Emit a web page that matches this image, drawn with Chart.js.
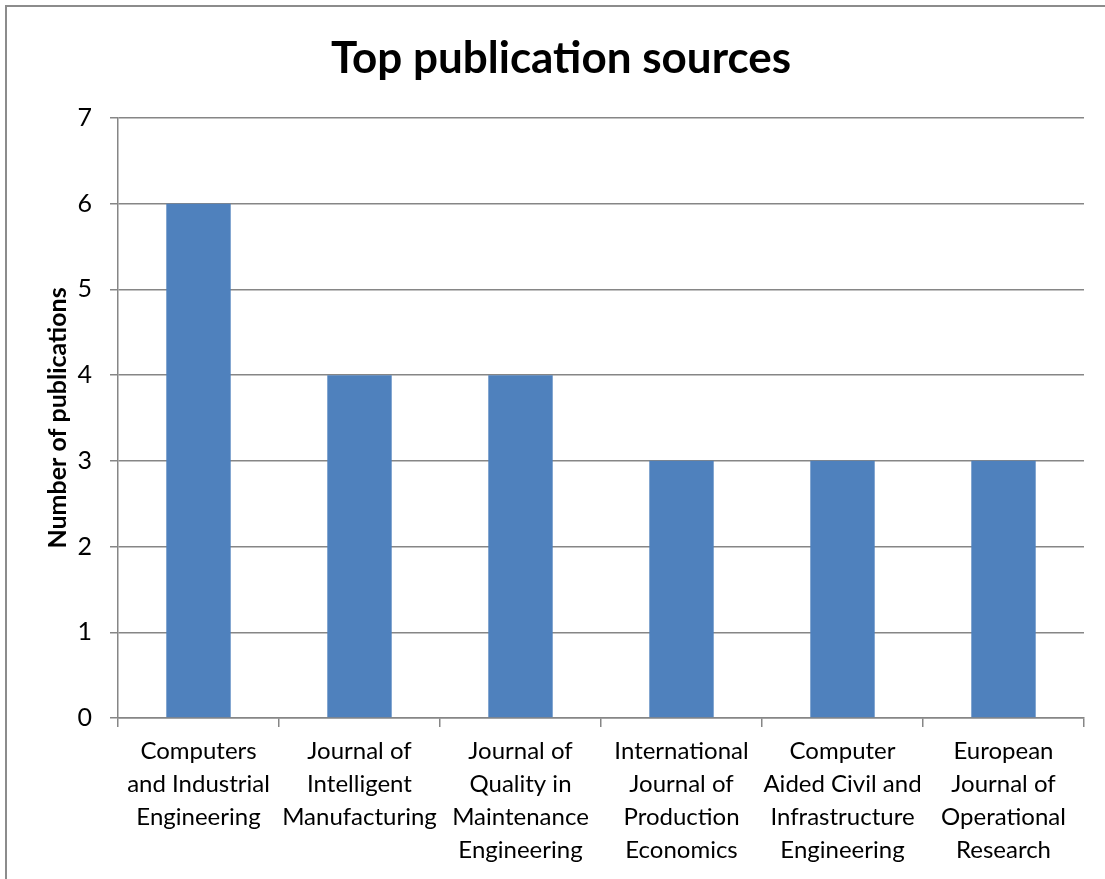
<!DOCTYPE html>
<html>
<head>
<meta charset="utf-8">
<script src="https://cdn.jsdelivr.net/npm/chart.js@4/dist/chart.umd.min.js"></script>
<style>
  html, body { margin: 0; padding: 0; background: #fff; }
  canvas { display: block; }
</style>
</head>
<body>
<canvas id="myChart" width="1105" height="879"></canvas>
<script>
// chart data
const categories = [
  ["Computers", "and Industrial", "Engineering"],
  ["Journal of", "Intelligent", "Manufacturing"],
  ["Journal of", "Quality in", "Maintenance", "Engineering"],
  ["International", "Journal of", "Production", "Economics"],
  ["Computer", "Aided Civil and", "Infrastructure", "Engineering"],
  ["European", "Journal of", "Operational", "Research"],
];
const publications = [6, 4, 4, 3, 3, 3];
const yTicks = [0, 1, 2, 3, 4, 5, 6, 7];

const FONT = "Lato";
const GRAY = "#868686";

// outer frame of the chart (left and top edges only are in view)
// and title centred on the whole frame, which runs past the right edge
const framePlugin = {
  id: "frame",
  afterLayout(chart) {
    chart.titleBlock.left = 17;
    chart.titleBlock.right = chart.width;
  },
  afterDraw(chart) {
    const ctx = chart.ctx;
    ctx.save();
    ctx.strokeStyle = "#8c8c8c";
    ctx.lineWidth = 2;
    ctx.beginPath();
    ctx.moveTo(6, chart.height);
    ctx.lineTo(6, 6);
    ctx.lineTo(chart.width, 6);
    ctx.stroke();
    ctx.restore();
  },
};

window.addEventListener("load", function () {
  const ctx = document.getElementById("myChart").getContext("2d");

  new Chart(ctx, {
    type: "bar",
    data: {
      labels: categories,
      datasets: [
        {
          label: "Publications",
          data: publications,
          backgroundColor: "#4f81bd",
          borderWidth: 0,
          barPercentage: 0.4,
          categoryPercentage: 1,
        },
      ],
    },
    options: {
      responsive: false,
      animation: false,
      layout: {
        padding: { top: 0, right: 21, left: 0, bottom: 0 },
      },
      scales: {
        y: {
          min: 0,
          max: 7,
          afterBuildTicks: function (scale) {
            scale.ticks = yTicks.map((v) => ({ value: v }));
          },
          afterFit: function (scale) {
            scale.width = 118;
          },
          border: { color: GRAY, width: 1.5 },
          grid: {
            color: GRAY,
            lineWidth: 1.5,
            tickLength: 8,
          },
          ticks: {
            color: "#000",
            padding: 18,
            font: { family: FONT, size: 25 },
          },
          title: {
            display: true,
            text: "Number of publications",
            color: "#000",
            padding: { top: 43, bottom: 0 },
            font: { family: FONT, size: 25, weight: "bold", lineHeight: 1.2 },
          },
        },
        x: {
          afterFit: function (scale) {
            scale.height = 161;
          },
          border: { color: GRAY, width: 1.5 },
          grid: {
            offset: true,
            drawOnChartArea: false,
            color: GRAY,
            lineWidth: 1.5,
            tickLength: 9,
          },
          ticks: {
            color: "#000",
            padding: 8,
            maxRotation: 0,
            autoSkip: false,
            font: { family: FONT, size: 24, lineHeight: 1.375 },
          },
        },
      },
      plugins: {
        legend: { display: false },
        tooltip: { enabled: false },
        title: {
          display: true,
          text: "Top publication sources",
          color: "#000",
          padding: { top: 32.5, bottom: 32.7 },
          font: { family: FONT, size: 44, weight: "bold", lineHeight: 1.2 },
        },
      },
    },
    plugins: [framePlugin],
  });
});
</script>
</body>
</html>
